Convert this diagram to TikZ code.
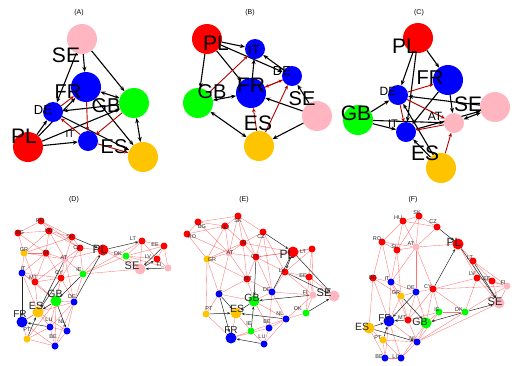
\documentclass[tikz,border=0pt]{standalone}
\usepackage{fontspec}
\setmainfont{Liberation Sans}
\usetikzlibrary{arrows.meta}
\definecolor{vred}{RGB}{255,0,0}
\definecolor{vblue}{RGB}{0,0,255}
\definecolor{vgreen}{RGB}{0,255,0}
\definecolor{vpink}{RGB}{255,182,193}
\definecolor{vyel}{RGB}{255,196,0}
\definecolor{edred}{RGB}{185,0,0}
\pgfdeclarelayer{background}
\pgfsetlayers{background,main}
\begin{document}
\begin{tikzpicture}[x=1pt, y=-1pt,
        bigv/.style={circle, inner sep=0pt, minimum size=30pt},
        smallv/.style={circle, inner sep=0pt, minimum size=20pt},
        netV/.style={circle, inner sep=0pt, minimum size=11pt},
        netv/.style={circle, inner sep=0pt, minimum size=7pt},
        arr/.style={-{Stealth[length=5pt,width=4pt]}, line width=1.1pt, black},
        darr/.style={{Stealth[length=5pt,width=4pt]}-{Stealth[length=5pt,width=4pt]}, line width=1.1pt, black},
        rarr/.style={-{Stealth[length=4pt,width=3.5pt]}, line width=0.9pt, edred},
        netline/.style={red, line width=0.35pt, opacity=0.55},
        netarr/.style={-{Stealth[length=3pt,width=2.5pt]}, line width=0.5pt, black!85},
        title/.style={font=\fontsize{7}{8}\selectfont, inner sep=0pt},
        lab/.style={font=\fontsize{#1}{#1}\selectfont, inner sep=0pt},
        nlab/.style={font=\fontsize{#1}{#1}\selectfont, inner sep=0pt, text=black!85}
    ]
    \useasboundingbox (0,0) rectangle (524,365);

    % Titles
    \node[title] (tA) at (79,13) {(A)};
    \node[title] (tB) at (250,13) {(B)};
    \node[title] (tC) at (419,13) {(C)};
    \node[title] (tD) at (74,200) {(D)};
    \node[title] (tE) at (244,200) {(E)};
    \node[title] (tF) at (413,200) {(F)};

    % Panel A
    \foreach \n/\x/\y/\c in {SE/82/39/vpink, FR/86/87/vblue, GB/134/103/vgreen, PL/28/147/vred, ES/143/157/vyel}
        \node[bigv, fill=\c] (a\n) at (\x,\y) {};
    \foreach \n/\x/\y/\c in {DE/53/112/vblue, IT/88/141/vblue}
        \node[smallv, fill=\c] (a\n) at (\x,\y) {};
    \begin{pgfonlayer}{background}
    \foreach \s/\t in {SE/GB, SE/FR, SE/DE, PL/DE, PL/IT, PL/GB, PL/FR, FR/ES, DE/ES, GB/DE}
        \draw[arr] (a\s) -- (a\t);
    \foreach \s/\t in {GB/ES, FR/GB}
        \draw[darr] (a\s) -- (a\t);
    \foreach \s/\t in {GB/IT, DE/FR, IT/DE, FR/IT, IT/ES}
        \draw[rarr] (a\s) -- (a\t);
    \end{pgfonlayer}
    \foreach \n/\x/\y/\s in {SE/66/55/21, FR/68/92/20, GB/106/106/20, DE/43/110/13, PL/24/136/21, IT/70/134/10, ES/114/147/20}
        \node[lab=\s] (a\n-t) at (\x,\y) {\n};

    % Panel B
    \foreach \n/\x/\y/\c in {PL/207/39/vred, FR/251/93/vblue, GB/198/103/vgreen, SE/317/116/vpink, ES/259/146/vyel}
        \node[bigv, fill=\c] (b\n) at (\x,\y) {};
    \foreach \n/\x/\y/\c in {IT/255/49/vblue, DE/292/76/vblue}
        \node[smallv, fill=\c] (b\n) at (\x,\y) {};
    \begin{pgfonlayer}{background}
    \foreach \s/\t in {PL/IT, PL/DE, PL/FR, PL/GB, SE/DE, SE/FR, SE/ES, FR/IT, DE/IT}
        \draw[arr] (b\s) -- (b\t);
    \foreach \s/\t in {ES/GB, GB/FR}
        \draw[darr] (b\s) -- (b\t);
    \foreach \s/\t in {GB/IT, FR/DE, DE/FR, ES/DE, ES/FR}
        \draw[rarr] (b\s) -- (b\t);
    \end{pgfonlayer}
    \foreach \n/\x/\y/\s in {PL/216/43/21, IT/254/50/13, DE/282/71/13, FR/251/85/21, GB/212/92/20, SE/302/99/20, ES/258/123/21}
        \node[lab=\s] (b\n-t) at (\x,\y) {\n};

    % Panel C
    \foreach \n/\x/\y/\c in {PL/418/38/vred, FR/448/80/vblue, GB/358/120/vgreen, SE/495/107/vpink, ES/441/168/vyel}
        \node[bigv, fill=\c] (c\n) at (\x,\y) {};
    \foreach \n/\x/\y/\c in {DE/398/95/vblue, AT/454/123/vpink, IT/406/132/vblue}
        \node[smallv, fill=\c] (c\n) at (\x,\y) {};
    \begin{pgfonlayer}{background}
    \foreach \s/\t in {PL/DE, PL/FR, PL/IT, GB/DE, GB/IT, GB/AT, SE/DE, FR/AT, FR/IT, ES/IT, ES/DE, IT/SE}
        \draw[arr] (c\s) -- (c\t);
    \foreach \s/\t in {SE/AT}
        \draw[darr] (c\s) -- (c\t);
    \foreach \s/\t in {DE/FR, DE/IT, AT/IT, ES/AT, DE/AT}
        \draw[rarr] (c\s) -- (c\t);
    \end{pgfonlayer}
    \foreach \n/\x/\y/\s in {PL/405/46/21, FR/430/78/20, DE/388/91/12, GB/356/113/21, SE/468/104/21, AT/435/116/12, IT/393/124/11, ES/425/153/21}
        \node[lab=\s] (c\n-t) at (\x,\y) {\n};

    % Panel D
    \foreach \n/\x/\y/\c in {RO/41/221/vred, BG/18/233/vred, HU/49/231/vred, SK/72/237/vred, GR/24/253/vyel, SI/46/253/vred,
            CZ/80/248/vred, AT/65/259/vpink, LT/142/241/vred, EE/164/246/vred, DK/126/256/vgreen, LV/157/259/vred,
            FI/168/268/vpink, IT/22/273/vblue, MT/35/282/vred, CY/61/278/vred, IE/83/274/vgreen, DE/74/302/vblue,
            LU/50/327/vblue, NL/67/331/vblue, PT/27/339/vyel, BE/55/346/vblue}
        \node[netv, fill=\c] (d\n) at (\x,\y) {};
    \foreach \n/\x/\y/\c in {PL/103/250/vred, SE/140/269/vpink, GB/56/301/vgreen, ES/38/312/vyel, FR/22/322/vblue}
        \node[netV, fill=\c] (d\n) at (\x,\y) {};
    \begin{pgfonlayer}{background}
    \foreach \s/\t in {RO/BG, RO/HU, RO/SK, RO/CZ, BG/HU, BG/GR, BG/SI, HU/SK, HU/SI, HU/AT, HU/CZ, HU/GR, SK/CZ, SK/AT,
            SK/GR, CZ/AT, CZ/PL, CZ/CY, CZ/IE, SI/AT, SI/GR, SI/IT, SI/CY, SI/MT, AT/IE, AT/DE, AT/MT, AT/CY, AT/PL,
            AT/GR, GR/IT, GR/MT, IT/MT, IT/CY, IT/ES, IT/GB, MT/CY, MT/GB, MT/ES, CY/IE, CY/GB, CY/DE, IE/DE, IE/DK,
            IE/PL, IE/SE, IE/LT, DE/NL, DE/LU, DE/GB, DE/BE, DE/ES, GB/FR, GB/LU, GB/BE, GB/PT, ES/FR, ES/LU, ES/NL,
            FR/PT, FR/BE, LU/NL, LU/BE, NL/BE, PT/BE, PT/LU, DK/LT, DK/SE, DK/LV, DK/EE, DK/FI, LT/EE, LT/LV, LV/EE,
            LV/FI, EE/FI, SE/LT, PL/DK, PL/SE}
        \draw[netline] (d\s) -- (d\t);
    \foreach \s/\t in {SK/PL, PL/LT, DE/PL, CY/ES, AT/ES, IE/GB, IT/FR, LU/FR, GB/NL, PT/ES, SE/LV, EE/SE, FI/SE, GB/ES}
        \draw[netarr] (d\s) -- (d\t);
    \end{pgfonlayer}
    \foreach \n/\x/\y/\s in {RO/40/221/5.5, BG/20/233/5.5, HU/49/231/5.5, SK/70/237/5.5, GR/24/250/5.5, SI/46/253/5.5,
            CZ/77/248/5.5, AT/64/258/5.5, PL/100/249/12, LT/133/239/5.5, EE/155/245/5.5, DK/118/254/5.5, LV/148/257/5.5,
            SE/132/266/11, FI/159/265/5.5, IT/23/269/5.5, MT/33/278/5.5, CY/59/273/5.5, IE/79/270/5.5, GB/55/294/10.5,
            DE/72/297/5.5, ES/36/306/10.5, FR/20/314/10, LU/49/320/5.5, NL/62/322/5.5, PT/27/330/5.5, BE/53/337/5.5}
        \node[nlab=\s] (d\n-t) at (\x,\y) {\n};

    % Panel E
    \foreach \n/\x/\y/\c in {SK/238/216/vred, BG/198/222/vred, HU/225/226/vred, RO/187/234/vred, CZ/263/232/vred,
            SI/243/243/vred, AT/229/253/vpink, LT/312/249/vred, GR/207/259/vyel, CY/256/257/vred, LV/285/272/vred,
            EE/309/277/vred, MT/247/279/vred, IT/219/294/vblue, DE/272/292/vblue, FI/313/295/vpink, PT/206/314/vyel,
            NL/286/319/vblue, DK/306/313/vgreen, IE/251/331/vgreen, BE/269/328/vblue, LU/264/344/vblue}
        \node[netv, fill=\c] (e\n) at (\x,\y) {};
    \foreach \n/\x/\y/\c in {PL/293/252/vred, SE/334/296/vpink, GB/254/301/vgreen, ES/236/313/vyel, FR/231/338/vblue}
        \node[netV, fill=\c] (e\n) at (\x,\y) {};
    \begin{pgfonlayer}{background}
    \foreach \s/\t in {SK/BG, SK/HU, SK/CZ, SK/SI, SK/AT, SK/CY, BG/RO, BG/HU, BG/AT, RO/HU, RO/GR, RO/AT, HU/SI, HU/AT,
            HU/GR, CZ/SI, CZ/CY, CZ/DE, CZ/LV, SI/AT, SI/CY, SI/MT, SI/GR, SI/PL, AT/GR, AT/CY, AT/IT, AT/MT, GR/IT,
            GR/PT, GR/MT, CY/PL, CY/MT, CY/LV, CY/DE, CY/LT, PL/LT, LT/LV, LT/EE, LT/FI, LV/EE, LV/DE, LV/FI, EE/FI,
            EE/DK, EE/SE, MT/IT, MT/DE, MT/GB, IT/PT, IT/GB, DE/GB, DE/NL, DE/BE, DE/FI, FI/SE, FI/DK, FI/NL, GB/BE,
            GB/NL, ES/IE, PT/FR, NL/BE, NL/LU, NL/DK, NL/IE, BE/LU, BE/FR, IE/FR, IE/LU, ES/FR}
        \draw[netline] (e\s) -- (e\t);
    \foreach \s/\t in {CZ/PL, PL/LV, LV/SE, PL/SE, FI/GB, DK/SE, DE/PL, IT/ES, IT/FR, CY/GB, IE/GB, LU/FR, NL/ES, PT/ES, GB/ES}
        \draw[netarr] (e\s) -- (e\t);
    \end{pgfonlayer}
    \foreach \n/\x/\y/\s in {SK/238/221/5.5, BG/202/227/5.5, HU/225/228/5.5, RO/192/237/5.5, CZ/261/237/5.5,
            SI/244/243/5.5, AT/230/253/5.5, PL/287/254/12, LT/303/252/5.5, GR/212/260/5.5, CY/255/257/5.5,
            LV/282/271/5.5, EE/303/276/5.5, MT/248/279/5.5, IT/220/293/5.5, DE/267/290/5.5, FI/305/293/5.5,
            SE/324/293/11, GB/252/298/10.5, ES/237/309/10.5, PT/209/309/5.5, NL/280/314/5.5, DK/298/309/5.5,
            IE/249/324/5.5, BE/267/322/5.5, FR/231/330/10, LU/262/337/5.5}
        \node[nlab=\s] (e\n-t) at (\x,\y) {\n};

    % Panel F
    \foreach \n/\x/\y/\c in {SK/419/216/vred, HU/403/221/vred, CZ/437/227/vred, RO/382/242/vred, AT/416/247/vpink,
            SI/397/250/vred, LT/473/261/vred, LV/477/278/vred, EE/492/281/vred, FI/507/286/vpink, BG/373/278/vred,
            IT/391/282/vblue, GR/401/296/vyel, DE/416/292/vblue, CY/433/289/vred, IE/439/312/vgreen, DK/465/312/vgreen,
            MT/408/320/vred, PT/383/340/vyel, NL/417/342/vblue, BE/385/358/vblue, LU/401/358/vblue}
        \node[netv, fill=\c] (f\n) at (\x,\y) {};
    \foreach \n/\x/\y/\c in {PL/458/244/vred, SE/499/303/vpink, FR/389/321/vblue, GB/426/323/vgreen, ES/369/328/vyel}
        \node[netV, fill=\c] (f\n) at (\x,\y) {};
    \begin{pgfonlayer}{background}
    \foreach \s/\t in {SK/HU, SK/CZ, SK/AT, SK/SI, HU/RO, HU/CZ, HU/AT, HU/SI, CZ/AT, RO/SI, RO/BG, RO/AT, RO/IT, SI/AT,
            SI/IT, SI/GR, AT/IT, AT/DE, AT/CY, AT/PL, PL/LT, PL/LV, LT/LV, LT/EE, LT/FI, LV/EE, LV/FI, LV/CY, LV/DK,
            LV/SE, EE/FI, EE/SE, FI/SE, FI/DK, FI/CY, BG/IT, BG/GR, BG/ES, BG/FR, IT/GR, IT/DE, IT/FR, IT/MT, GR/DE,
            GR/FR, GR/MT, DE/CY, DE/GB, DE/MT, CY/IE, CY/MT, CY/GB, CY/DK, IE/DK, IE/GB, IE/NL, IE/MT, DK/NL, FR/NL,
            FR/BE, FR/LU, MT/GB, MT/NL, GB/NL, GB/LU, ES/PT, ES/BE, PT/BE, PT/LU, PT/NL, NL/LU, BE/LU, SE/NL}
        \draw[netline] (f\s) -- (f\t);
    \foreach \s/\t in {CZ/PL, PL/SE, LT/SE, CY/PL, DK/GB, DK/SE, GR/GB, DE/FR, MT/FR, ES/FR, ES/NL, PT/FR}
        \draw[netarr] (f\s) -- (f\t);
    \end{pgfonlayer}
    \foreach \n/\x/\y/\s in {SK/417/213/5.5, HU/398/218/5.5, CZ/433/222/5.5, RO/377/239/5.5, PL/454/242/12,
            AT/411/244/5.5, SI/394/247/5.5, LT/470/258/5.5, LV/472/274/5.5, EE/487/279/5.5, FI/503/283/5.5,
            BG/373/278/5.5, IT/387/279/5.5, GR/396/293/5.5, DE/411/288/5.5, CY/428/287/5.5, SE/495/302/11,
            IE/437/310/5.5, DK/459/310/5.5, FR/385/318/10, MT/402/318/5.5, GB/420/322/10.5, ES/362/327/10.5,
            PT/378/338/5.5, NL/413/339/5.5, BE/379/357/5.5, LU/396/357/5.5}
        \node[nlab=\s] (f\n-t) at (\x,\y) {\n};

\end{tikzpicture}
\end{document}
